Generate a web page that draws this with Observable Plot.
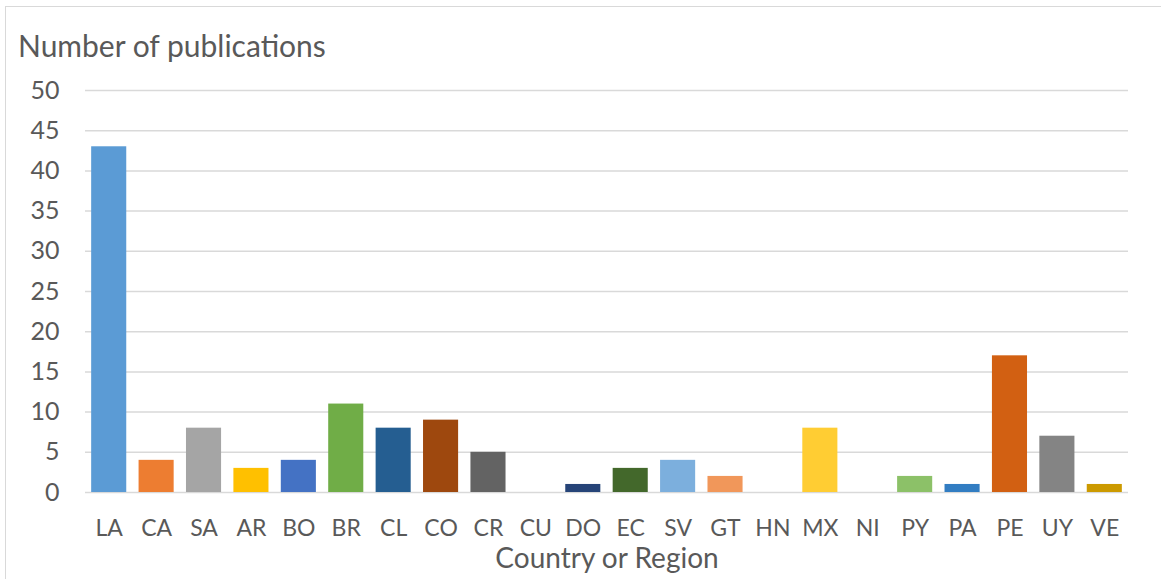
<!DOCTYPE html>
<html>
<head>
<meta charset="utf-8">
<script src="https://cdn.jsdelivr.net/npm/d3@7"></script>
<script src="https://cdn.jsdelivr.net/npm/@observablehq/plot@0.6"></script>
<style>
  body { margin: 0; background: #fff; }
  #wrap { position: relative; width: 1161px; height: 579px; overflow: hidden; }
  #frame { position: absolute; left: 5px; top: 6px; width: 1160px; height: 580px; border: 1.5px solid #d9d9d9; box-sizing: border-box; }
  #title { position: absolute; left: 18px; top: 27px; line-height: 1.2; font-family: Lato, "Open Sans", sans-serif; font-size: 30px; color: #595959; white-space: nowrap; }
  #chart { position: absolute; left: 0; top: 0; }
</style>
</head>
<body>
<div id="wrap">
  <div id="frame"></div>
  <div id="chart"></div>
  <div id="title">Number of publications</div>
</div>
<script>
const categories = ["LA","CA","SA","AR","BO","BR","CL","CO","CR","CU","DO","EC","SV","GT","HN","MX","NI","PY","PA","PE","UY","VE"];
const values = [43,4,8,3,4,11,8,9,5,0,1,3,4,2,0,8,0,2,1,17,7,1];
const colors = ["#5B9BD5","#ED7D31","#A5A5A5","#FFC000","#4472C4","#70AD47","#255E91","#9E480E","#636363","#997300","#264478","#43682B","#7CAFDD","#F1975A","#B7B7B7","#FFCD33","#698ED0","#8CC168","#327DC2","#D26012","#848484","#CC9A00"];
const yTicks = [0,5,10,15,20,25,30,35,40,45,50];
const xTitle = "Country or Region";

const data = categories.map((c, i) => ({cat: c, value: values[i], color: colors[i]}));

const chart = Plot.plot({
  width: 1161,
  height: 579,
  marginLeft: 85,
  marginRight: 33,
  marginTop: 90,
  marginBottom: 87,
  style: {fontFamily: "Lato, 'Open Sans', sans-serif", fontSize: "24px", color: "#595959", background: "transparent"},
  x: {domain: categories, paddingInner: 0.26, paddingOuter: 0.13, round: false, label: null},
  y: {domain: [0, 50], label: null},
  marks: [
    Plot.ruleY(yTicks, {stroke: "#d9d9d9", strokeWidth: 1.5}),
    Plot.barY(data, {x: "cat", y: "value", fill: "color"}),
    Plot.axisY({ticks: yTicks, tickSize: 0, tickPadding: 26, fontSize: 25, fill: "#595959", label: null}),
    Plot.axisX({tickSize: 0, tickPadding: 27, fontSize: 23, fill: "#595959", label: null}),
    Plot.text([xTitle], {frameAnchor: "bottom", lineAnchor: "middle", dy: 67, fontSize: 28, fill: "#595959"})
  ]
});
document.getElementById("chart").appendChild(chart);
</script>
</body>
</html>
